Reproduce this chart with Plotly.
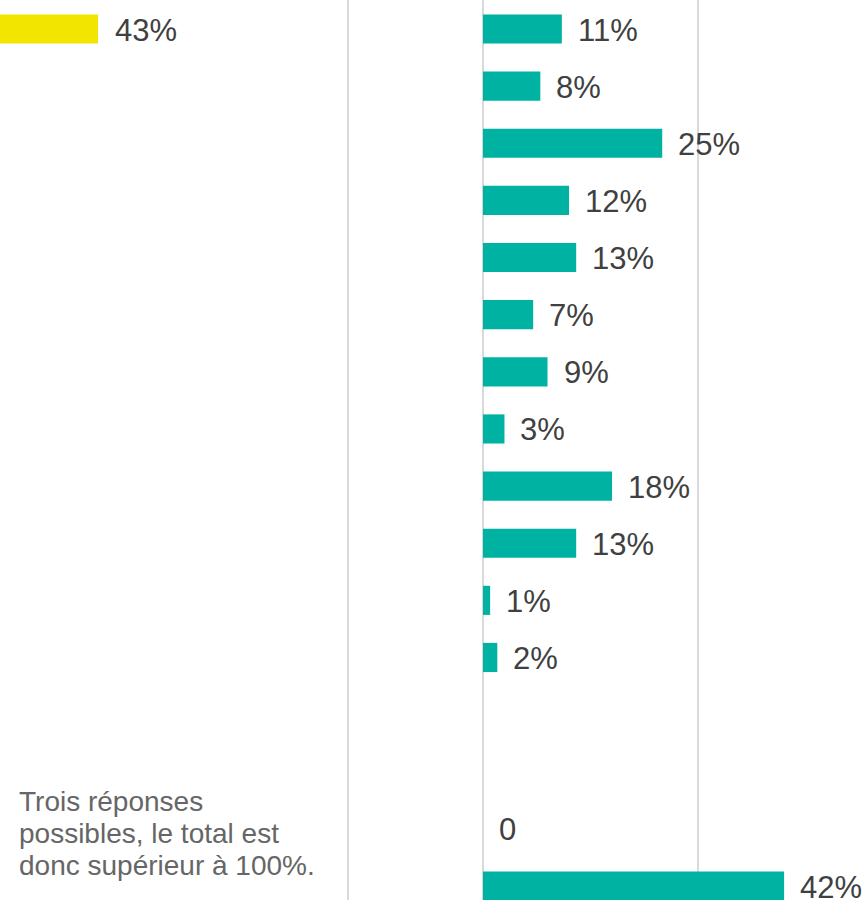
import plotly.graph_objects as go

# Row positions (top to bottom) and values
rows = list(range(16))
teal_values = [11, 8, 25, 12, 13, 7, 9, 3, 18, 13, 1, 2, None, None, 0, 42]
teal_labels = ['11%', '8%', '25%', '12%', '13%', '7%', '9%', '3%', '18%', '13%', '1%', '2%', '', '', '0', '42%']

yellow_rows = [0]
yellow_values = [43]
yellow_labels = ['43%']

note_lines = ["Trois réponses", "possibles, le total est", "donc supérieur à 100%."]

TEAL = '#00B2A2'
YELLOW = '#F2E500'
GRID = '#D9D9D9'
FONT = 'Liberation Sans, Arial, sans-serif'

fig = go.Figure()

fig.add_trace(go.Bar(
    x=yellow_values, y=yellow_rows, orientation='h',
    marker=dict(color=YELLOW, line=dict(width=0)),
    width=0.51, xaxis='x', yaxis='y', showlegend=False, hoverinfo='skip'
))

fig.add_trace(go.Bar(
    x=teal_values, y=rows, orientation='h',
    marker=dict(color=TEAL, line=dict(width=0)),
    width=0.51, xaxis='x2', yaxis='y', showlegend=False, hoverinfo='skip'
))

# Value labels just right of each bar end
annotations = []
for v, r, t in zip(yellow_values, yellow_rows, yellow_labels):
    annotations.append(dict(x=v, y=r, xref='x', yref='y', text=t, showarrow=False,
                            xanchor='left', yanchor='middle', xshift=15, yshift=-1,
                            font=dict(size=31, color='#404040', family=FONT)))
for v, r, t in zip(teal_values, rows, teal_labels):
    if v is None:
        continue
    annotations.append(dict(x=v, y=r, xref='x2', yref='y', text=t, showarrow=False,
                            xanchor='left', yanchor='middle', xshift=14, yshift=-1,
                            font=dict(size=31, color='#404040', family=FONT)))

# Footnote, one annotation per line to keep the tight line spacing
for i, line in enumerate(note_lines):
    annotations.append(dict(x=17 / 867, y=1 - (801 + 32 * i) / 900,
                            xref='paper', yref='paper', text=line, showarrow=False,
                            xanchor='left', yanchor='middle', align='left',
                            font=dict(size=28, color='#666666', family=FONT)))

fig.update_layout(
    width=867, height=900,
    margin=dict(l=0, r=0, t=0, b=0),
    plot_bgcolor='white', paper_bgcolor='white',
    barmode='overlay',
    annotations=annotations,
    xaxis=dict(
        domain=[0, 1], range=[28.5, 156.8],
        tickvals=[80], showticklabels=False, showgrid=True,
        gridcolor=GRID, gridwidth=1.5, zeroline=False, showline=False, fixedrange=True
    ),
    xaxis2=dict(
        overlaying='x', range=[-67.36, 53.56],
        tickvals=[0, 30], showticklabels=False, showgrid=True,
        gridcolor=GRID, gridwidth=1.5, zeroline=False, showline=False, fixedrange=True
    ),
    yaxis=dict(
        range=[15.245, -0.508], showticklabels=False, showgrid=False,
        zeroline=False, showline=False, fixedrange=True
    ),
)

# Drop the default page margin so the figure sits flush in the window
fig.write_html("out.html", config={'displayModeBar': False},
               post_script="document.body.style.margin='0';")
